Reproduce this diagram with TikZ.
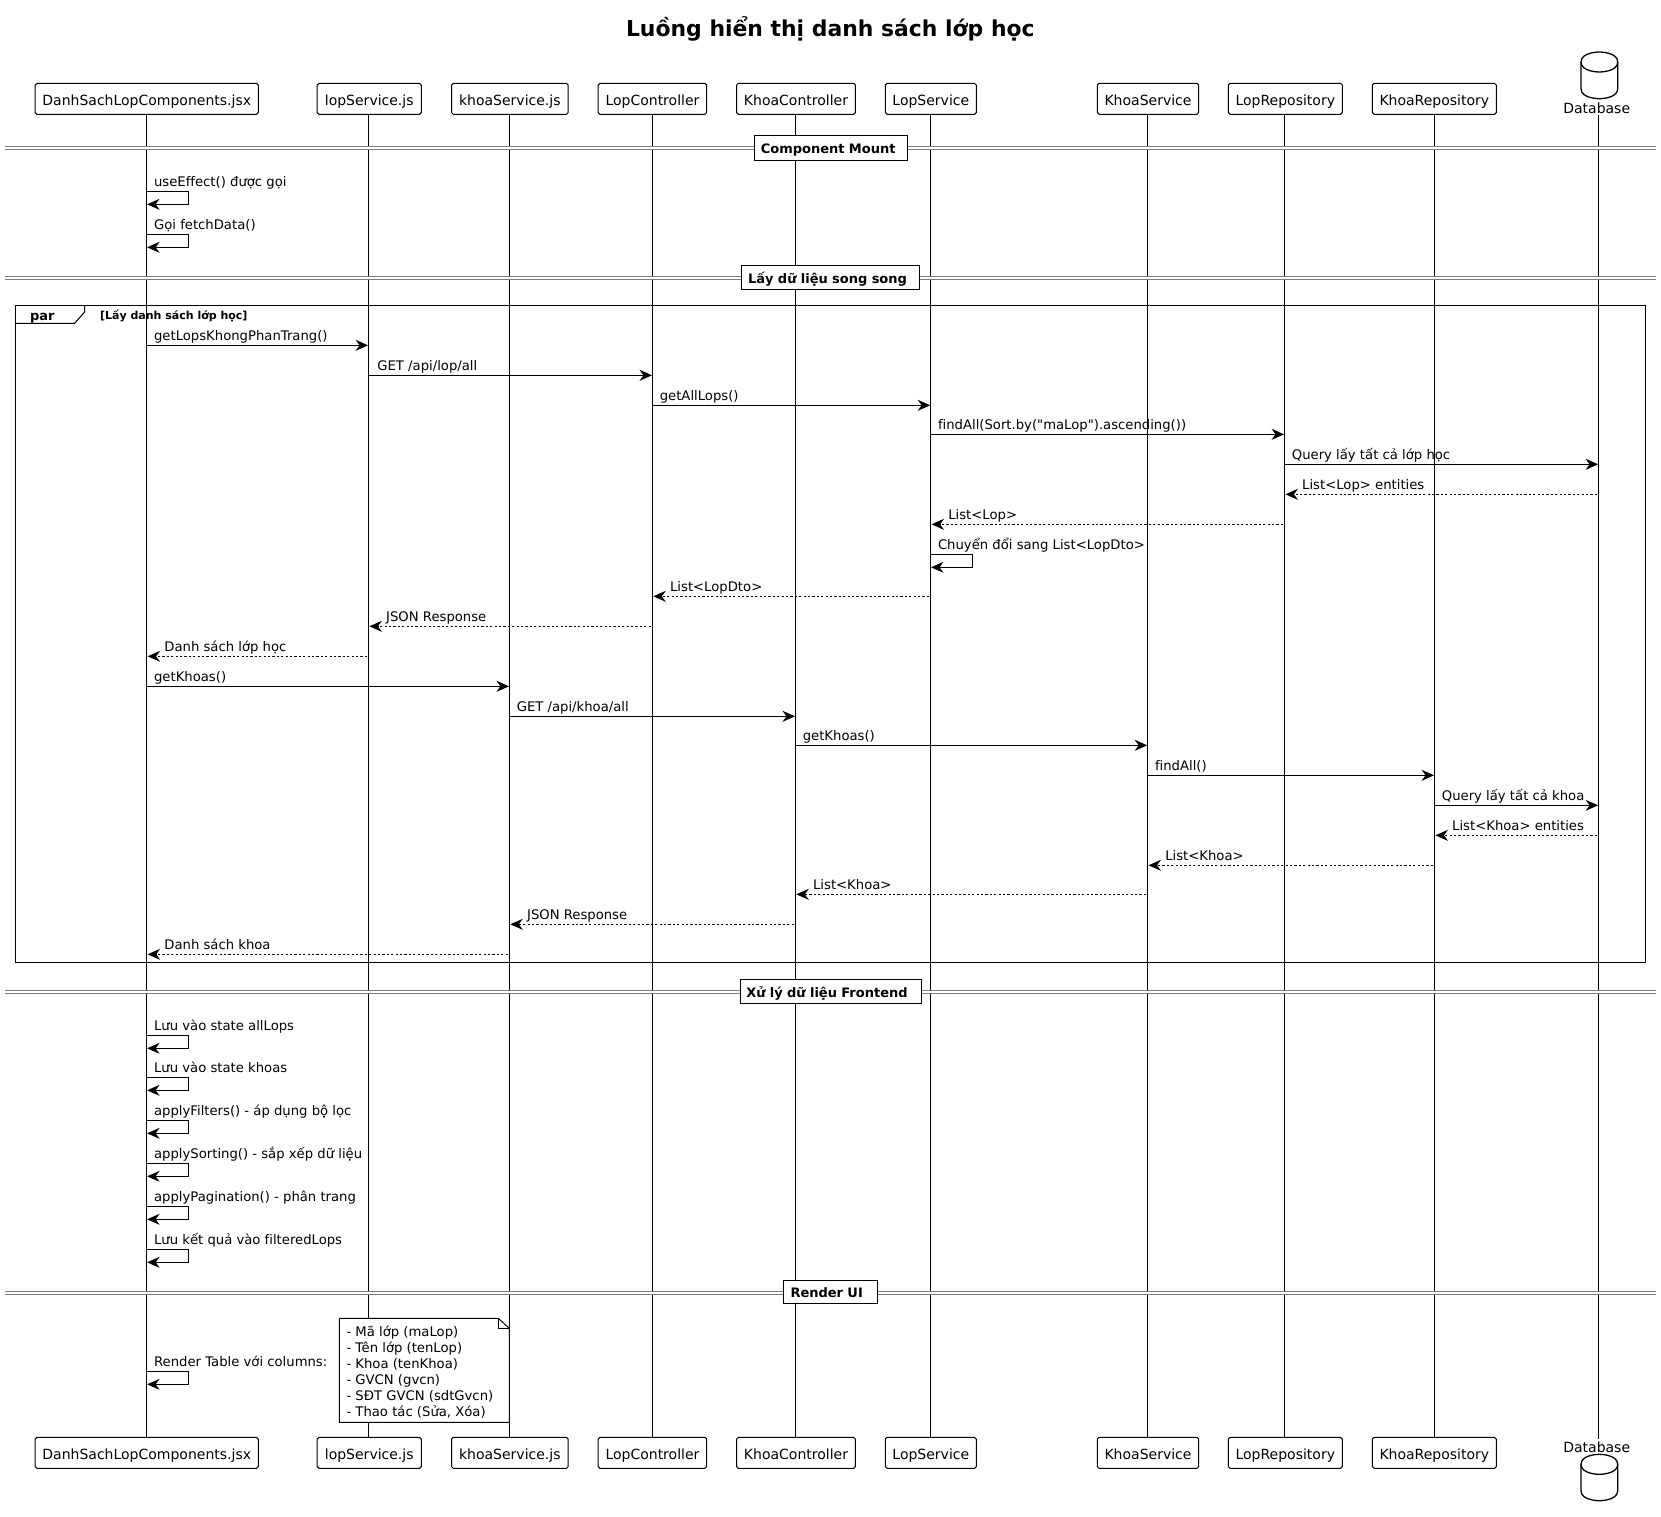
\documentclass[tikz,border=0pt]{standalone}
\usepackage{fontspec}
\setmainfont{DejaVu Sans}[Ligatures=CommonOff]
\newfontfamily\plainfont{DejaVu Sans}
\usetikzlibrary{arrows.meta}
\definecolor{divgray}{RGB}{125,125,125}
\tikzset{
  actorbox/.style={draw=black,line width=1pt,rounded corners=1.8pt,fill=white,inner sep=0pt,minimum height=31pt,text height=13pt,text depth=0pt,font=\fontsize{14}{16}\selectfont},
  lifeline/.style={draw=black,line width=1pt},
  solidmsg/.style={draw=black,line width=1pt,-{Stealth[length=12.5pt,width=11pt,inset=4pt]}},
  dashmsg/.style={draw=black,line width=1pt,dash pattern=on 2.2pt off 2.2pt,-{Stealth[length=12.5pt,width=11pt,inset=4pt]}},
  msgtext/.style={anchor=base west,inner sep=0pt,font=\fontsize{13.2}{15}\selectfont},
  divlabel/.style={draw=black,line width=1pt,fill=white,inner sep=0pt,anchor=north west,text height=11pt,text depth=0pt,font=\fontsize{13}{15}\selectfont\bfseries},
  dblabel/.style={anchor=base,inner sep=0pt,font=\fontsize{14}{16}\selectfont},
  cylinder/.style={draw=black,line width=1.3pt,fill=white},
  framebox/.style={draw=black,line width=1pt},
}
\newcommand{\actorpair}[5]{% id, x1, x2, label, lifeline x
  \pgfmathsetmacro{\actcx}{(#2+#3)/2}\pgfmathsetmacro{\actw}{#3-#2}
  \coordinate (L#1) at (#5,0);
  \node[actorbox,minimum width=\actw pt] (top#1) at (\actcx,98.8) {#4};
  \node[actorbox,minimum width=\actw pt] (bot#1) at (\actcx,1452.8) {#4};
}
\newcommand{\lifelinepair}[1]{\draw[lifeline] (L#1 |- top#1.south) -- (L#1 |- bot#1.north);}
\newcommand{\msgR}[4]{% from to y label
  \coordinate (m) at (0,#3);
  \draw[solidmsg] (L#1 |- m) -- ([xshift=-0.3pt]L#2 |- m);
  \node[msgtext] at ([xshift=7.3pt,yshift=4.4pt]L#1 |- m) {#4};
}
\newcommand{\msgL}[4]{% from to y label
  \coordinate (m) at (0,#3);
  \draw[dashmsg] ([xshift=-1.5pt]L#1 |- m) -- ([xshift=1pt]L#2 |- m);
  \node[msgtext] at ([xshift=17.6pt,yshift=4.4pt]L#2 |- m) {#4};
}
\newcommand{\selfmsg}[3]{% lifeline y label
  \coordinate (m) at (0,#2);
  \draw[solidmsg] (L#1 |- m) -- ++(42,0) -- ++(0,13) -- ([xshift=0.5pt,yshift=-13pt]L#1 |- m);
  \node[msgtext] at ([xshift=7.3pt,yshift=4.4pt]L#1 |- m) {#3};
}
\newcommand{\divider}[8]{% id y1 y2 boxx1 boxy1 boxw boxh text
  \fill[white] (5,#2) rectangle (1655.7,#3);
  \draw[divgray,line width=1pt] (5,#2) -- (1655.7,#2) (5,#3) -- (1655.7,#3);
  \node[divlabel,minimum width=#6pt,minimum height=#7pt,text width=#6pt,align=left] (#1) at (#4,#5) {#8};
}
\begin{document}
\begin{tikzpicture}[x=1pt,y=-1pt]
\useasboundingbox (0,0) rectangle (1661,1516);
\fill[white] (0,0) rectangle (1661,1516);
\node[anchor=base,inner sep=0pt,font=\fontsize{21.9}{26}\selectfont\bfseries] (title) at (830.3,36.5) {Luồng hiển thị danh sách lớp học};

\actorpair{1}{35.2}{258.3}{DanhSachLopComponents.jsx}{146.6}
\actorpair{2}{317.2}{421.3}{lopService.js}{368.4}
\actorpair{3}{451.5}{568.2}{khoaService.js}{509.3}
\actorpair{4}{598.2}{706.7}{LopController}{652.3}
\actorpair{5}{736.6}{855.4}{KhoaController}{795.3}
\actorpair{6}{885.3}{976.3}{LopService}{930.5}
\actorpair{7}{1097.3}{1198.7}{KhoaService}{1147.5}
\actorpair{8}{1228.3}{1342.3}{LopRepository}{1284.4}
\actorpair{9}{1372.3}{1496.3}{KhoaRepository}{1434.4}
\coordinate (L10) at (1598.4,0);
\node[dblabel] (top10) at (1596.7,113) {Database};
\node[dblabel] (bot10) at (1596.7,1452) {Database};
\coordinate (topDb) at (1598.4,115);
\coordinate (botDb) at (1598.4,1438.7);

\foreach \i in {1,...,9}{\lifelinepair{\i}}
\draw[lifeline] (topDb) -- (botDb);

% database cylinders
\draw[cylinder] (1581,62) .. controls (1581,52) and (1599.3,52) .. (1599.3,52) .. controls (1599.3,52) and (1617.7,52) .. (1617.7,62) -- (1617.7,88.7) .. controls (1617.7,98.7) and (1599.3,98.7) .. (1599.3,98.7) .. controls (1599.3,98.7) and (1581,98.7) .. (1581,88.7) -- cycle;
\draw[cylinder,fill=none] (1581,62) .. controls (1581,72) and (1599.3,72) .. (1599.3,72) .. controls (1599.3,72) and (1617.7,72) .. (1617.7,62);
\draw[cylinder] (1581,1464.3) .. controls (1581,1454.3) and (1599.3,1454.3) .. (1599.3,1454.3) .. controls (1599.3,1454.3) and (1617.7,1454.3) .. (1617.7,1464.3) -- (1617.7,1490.7) .. controls (1617.7,1500.7) and (1599.3,1500.7) .. (1599.3,1500.7) .. controls (1599.3,1500.7) and (1581,1500.7) .. (1581,1490.7) -- cycle;
\draw[cylinder,fill=none] (1581,1464.3) .. controls (1581,1474.3) and (1599.3,1474.3) .. (1599.3,1474.3) .. controls (1599.3,1474.3) and (1617.7,1474.3) .. (1617.7,1464.3);

% par frame
\draw[framebox] (15.3,305.3) rectangle (1645.5,962.3);
\draw[framebox] (15.3,323.3) -- (74.6,323.3) -- (84.6,312) -- (84.6,305.3);
\node[msgtext,font=\fontsize{13}{15}\selectfont\bfseries] (parlabel) at (29.8,320) {par};
\node[msgtext,font=\fontsize{11}{13}\selectfont\bfseries] (parcond) at (99.9,319.3) {[Lấy danh sách lớp học]};

% dividers
\divider{d1}{146.3}{149.3}{754}{135.3}{152.7}{24.4}{\hspace*{6.3pt}Component Mount}
\divider{d2}{276.3}{279.3}{741}{265.3}{177.8}{23.4}{\hspace*{6.6pt}Lấy dữ liệu song song}
\divider{d3}{990.6}{993.2}{740.3}{979.3}{180.4}{24}{\hspace*{5.5pt}Xử lý dữ liệu Frontend}
\divider{d4}{1291.4}{1294.1}{783}{1280.3}{93.7}{23}{\hspace*{7pt}Render UI}

% messages
\selfmsg{1}{191.3}{useEffect() được gọi}
\selfmsg{1}{234.3}{Gọi fetchData()}
\msgR{1}{2}{345.3}{getLopsKhongPhanTrang()}
\msgR{2}{4}{375.3}{\hspace*{1.5pt}GET /api/lop/all}
\msgR{4}{6}{405.3}{getAllLops()}
\msgR{6}{8}{434.3}{findAll(Sort.by({\plainfont"}maLop{\plainfont"}).ascending())}
\msgR{8}{10}{464.3}{Query lấy tất cả lớp học}
\msgL{10}{8}{494.3}{List<Lop> entities}
\msgL{8}{6}{524.3}{List<Lop>}
\selfmsg{6}{554.3}{Chuyển đổi sang List<LopDto>}
\msgL{6}{4}{596.3}{List<LopDto>}
\msgL{4}{2}{626.3}{JSON Response}
\msgL{2}{1}{656.3}{Danh sách lớp học}
\msgR{1}{3}{686.3}{getKhoas()}
\msgR{3}{5}{716.3}{GET /api/khoa/all}
\msgR{5}{7}{745.3}{getKhoas()}
\msgR{7}{9}{775.3}{findAll()}
\msgR{9}{10}{805.3}{Query lấy tất cả khoa}
\msgL{10}{9}{835.3}{List<Khoa> entities}
\msgL{9}{7}{865.3}{List<Khoa>}
\msgL{7}{5}{894.3}{List<Khoa>}
\msgL{5}{3}{924.3}{JSON Response}
\msgL{3}{1}{954.3}{Danh sách khoa}
\selfmsg{1}{1035.3}{Lưu vào state allLops}
\selfmsg{1}{1077.3}{Lưu vào state khoas}
\selfmsg{1}{1120.3}{applyFilters() - áp dụng bộ lọc}
\selfmsg{1}{1163.3}{applySorting() - sắp xếp dữ liệu}
\selfmsg{1}{1206.3}{applyPagination() - phân trang}
\selfmsg{1}{1249.3}{Lưu kết quả vào filteredLops}
\selfmsg{1}{1371.3}{Render Table với columns:}

% note
\draw[line width=1pt,fill=white] (339.4,1318.3) -- (498.3,1318.3) -- (509.3,1328.3) -- (509.3,1422.3) -- (339.4,1422.3) -- cycle;
\draw[line width=1pt] (498.3,1318.3) -- (498.3,1328.3) -- (509.3,1328.3);
\node[anchor=north west,inner sep=0pt,align=left,font=\fontsize{13.2}{15.9}\selectfont] (note) at (346.3,1326) {- Mã lớp (maLop)\\- Tên lớp (tenLop)\\- Khoa (tenKhoa)\\- GVCN (gvcn)\\- SĐT GVCN (sdtGvcn)\\- Thao tác (Sửa, Xóa)};
\end{tikzpicture}
\end{document}
